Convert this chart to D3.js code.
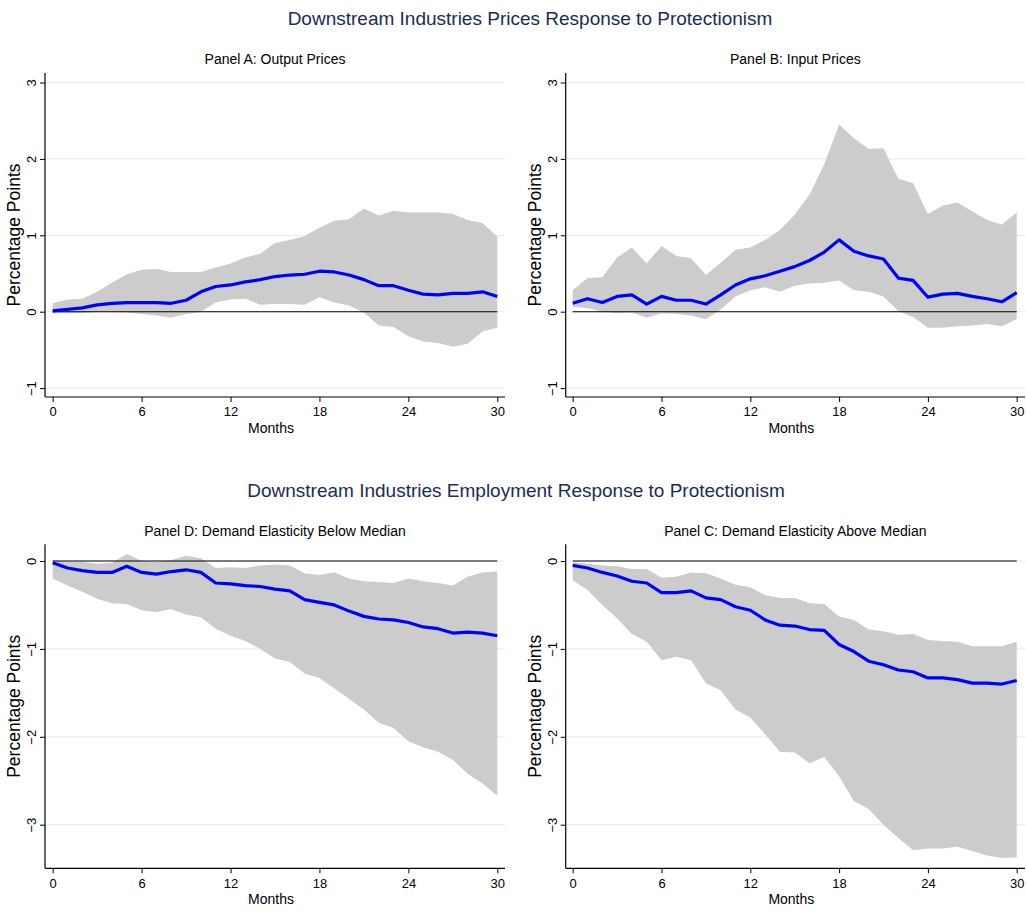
<!DOCTYPE html>
<html>
<head>
<meta charset="utf-8">
<script src="https://cdn.jsdelivr.net/npm/d3@7"></script>
<style>
  html, body { margin: 0; padding: 0; background: #fff; }
  svg { display: block; font-family: "Liberation Sans", Arial, sans-serif; }
</style>
</head>
<body>
<svg id="chart" width="1026" height="911"></svg>
<script>
// Months after the protection shock
const months = d3.range(0, 31);

// Panel A: output prices — point estimate and confidence band
const outputMean = [0.01,0.03,0.05,0.09,0.11,0.12,0.12,0.12,0.11,0.15,0.26,0.33,0.35,0.39,0.42,0.46,0.48,0.49,0.53,0.52,0.48,0.42,0.34,0.34,0.28,0.23,0.22,0.24,0.24,0.26,0.20];
const outputUpper = [0.11,0.16,0.17,0.26,0.38,0.49,0.55,0.56,0.52,0.52,0.52,0.58,0.63,0.71,0.76,0.90,0.94,0.99,1.10,1.19,1.21,1.35,1.26,1.32,1.30,1.30,1.30,1.28,1.20,1.16,0.98];
const outputLower = [-0.02,-0.02,-0.02,0.00,0.00,-0.01,-0.03,-0.05,-0.08,-0.03,0.00,0.12,0.16,0.17,0.09,0.10,0.10,0.09,0.19,0.12,0.08,-0.01,-0.18,-0.20,-0.32,-0.39,-0.41,-0.46,-0.42,-0.26,-0.21];

// Panel B: input prices
const inputMean = [0.11,0.17,0.12,0.20,0.22,0.10,0.20,0.15,0.15,0.10,0.22,0.35,0.43,0.47,0.53,0.59,0.67,0.78,0.94,0.79,0.73,0.69,0.44,0.41,0.19,0.23,0.24,0.20,0.17,0.13,0.25];
const inputUpper = [0.28,0.44,0.45,0.71,0.84,0.63,0.86,0.73,0.70,0.48,0.64,0.81,0.84,0.94,1.07,1.27,1.53,1.93,2.45,2.27,2.13,2.14,1.74,1.68,1.28,1.39,1.43,1.31,1.20,1.14,1.30];
const inputLower = [0.06,0.05,0.00,-0.02,-0.01,-0.08,-0.02,-0.03,-0.05,-0.10,0.03,0.20,0.28,0.32,0.26,0.34,0.37,0.38,0.41,0.28,0.26,0.20,0.01,-0.07,-0.21,-0.21,-0.19,-0.18,-0.16,-0.19,-0.10];

// Panel D: employment, demand elasticity below median
const belowMean = [-0.02,-0.08,-0.11,-0.13,-0.13,-0.06,-0.13,-0.15,-0.12,-0.10,-0.13,-0.25,-0.26,-0.28,-0.29,-0.32,-0.34,-0.44,-0.47,-0.50,-0.57,-0.63,-0.66,-0.67,-0.70,-0.75,-0.77,-0.82,-0.81,-0.82,-0.85];
const belowUpper = [0.01,-0.01,-0.01,-0.03,-0.02,0.08,0.00,-0.01,0.01,0.06,0.03,-0.08,-0.07,-0.08,-0.05,-0.04,-0.05,-0.14,-0.16,-0.13,-0.20,-0.23,-0.24,-0.25,-0.20,-0.23,-0.25,-0.28,-0.18,-0.13,-0.12];
const belowLower = [-0.20,-0.28,-0.35,-0.43,-0.48,-0.49,-0.56,-0.58,-0.55,-0.61,-0.64,-0.77,-0.85,-0.91,-1.00,-1.11,-1.15,-1.28,-1.33,-1.45,-1.57,-1.69,-1.84,-1.90,-2.05,-2.12,-2.17,-2.26,-2.42,-2.53,-2.67];

// Panel C: employment, demand elasticity above median
const aboveMean = [-0.05,-0.08,-0.13,-0.17,-0.23,-0.25,-0.36,-0.36,-0.34,-0.42,-0.44,-0.52,-0.56,-0.67,-0.73,-0.74,-0.78,-0.79,-0.95,-1.03,-1.14,-1.18,-1.24,-1.26,-1.33,-1.33,-1.35,-1.39,-1.39,-1.40,-1.36];
const aboveUpper = [-0.01,-0.03,-0.05,-0.06,-0.09,-0.09,-0.19,-0.18,-0.13,-0.14,-0.20,-0.27,-0.30,-0.39,-0.42,-0.42,-0.48,-0.49,-0.63,-0.67,-0.78,-0.80,-0.84,-0.83,-0.90,-0.91,-0.92,-0.97,-0.97,-0.97,-0.92];
const aboveLower = [-0.22,-0.33,-0.50,-0.65,-0.83,-0.92,-1.13,-1.09,-1.13,-1.39,-1.47,-1.69,-1.78,-1.97,-2.17,-2.18,-2.30,-2.23,-2.45,-2.73,-2.82,-3.00,-3.15,-3.29,-3.27,-3.27,-3.25,-3.30,-3.35,-3.38,-3.37];

// Axis ticks
const xTicks = [0, 6, 12, 18, 24, 30];
const priceTicks = [-1, 0, 1, 2, 3];
const employmentTicks = [-3, -2, -1, 0];

// Section titles
const titles = [
  { text: "Downstream Industries Prices Response to Protectionism", x: 530, y: 25 },
  { text: "Downstream Industries Employment Response to Protectionism", x: 516, y: 497 }
];

const panels = [
  { title: "Panel A: Output Prices", mean: outputMean, upper: outputUpper, lower: outputLower,
    ticks: priceTicks, left: 45, right: 505, x0: 52.7, x30: 497.3,
    top: 73, bottom: 397, yDom: [-1, 3], yRange: [388.1, 82.5], titleY: 64 },
  { title: "Panel B: Input Prices", mean: inputMean, upper: inputUpper, lower: inputLower,
    ticks: priceTicks, left: 565.7, right: 1025, x0: 572.7, x30: 1016.7,
    top: 73, bottom: 397, yDom: [-1, 3], yRange: [388.1, 82.5], titleY: 64 },
  { title: "Panel D: Demand Elasticity Below Median", mean: belowMean, upper: belowUpper, lower: belowLower,
    ticks: employmentTicks, left: 45, right: 505, x0: 52.7, x30: 497.3,
    top: 544.3, bottom: 868.3, yDom: [-3, 0], yRange: [824.7, 561], titleY: 536 },
  { title: "Panel C: Demand Elasticity Above Median", mean: aboveMean, upper: aboveUpper, lower: aboveLower,
    ticks: employmentTicks, left: 565.7, right: 1025, x0: 572.7, x30: 1016.7,
    top: 544.3, bottom: 868.3, yDom: [-3, 0], yRange: [824.7, 561], titleY: 536 }
];

const svg = d3.select("#chart");

svg.selectAll("text.main-title")
  .data(titles)
  .join("text")
  .attr("class", "main-title")
  .attr("x", d => d.x)
  .attr("y", d => d.y)
  .attr("text-anchor", "middle")
  .attr("fill", "#1c2b5a")
  .style("font-size", "19px")
  .text(d => d.text);

const fmt = d => d < 0 ? "\u2212" + Math.abs(d) : String(d);

panels.forEach(p => {
  const x = d3.scaleLinear().domain([0, 30]).range([p.x0, p.x30]);
  const y = d3.scaleLinear().domain(p.yDom).range(p.yRange);
  const g = svg.append("g");

  // light horizontal grid at each labelled value
  g.selectAll("line.grid")
    .data(p.ticks)
    .join("line")
    .attr("x1", p.left).attr("x2", p.right)
    .attr("y1", d => y(d)).attr("y2", d => y(d))
    .attr("stroke", "#e8f0f1").attr("stroke-width", 1.2);

  // confidence band
  const area = d3.area()
    .x((d, i) => x(months[i]))
    .y0((d, i) => y(p.lower[i]))
    .y1((d, i) => y(p.upper[i]));
  g.append("path")
    .datum(p.mean)
    .attr("d", area)
    .attr("fill", "#cccccc");

  // zero reference line
  g.append("line")
    .attr("x1", x(0)).attr("x2", x(30))
    .attr("y1", y(0)).attr("y2", y(0))
    .attr("stroke", "#000").attr("stroke-width", 1.1);

  // point estimate
  const line = d3.line()
    .x((d, i) => x(months[i]))
    .y(d => y(d));
  g.append("path")
    .datum(p.mean)
    .attr("d", line)
    .attr("fill", "none")
    .attr("stroke", "#0000ff")
    .attr("stroke-width", 3.2)
    .attr("stroke-linejoin", "round");

  // x axis
  const xAxis = d3.axisBottom(x).tickValues(xTicks).tickSize(5).tickPadding(5).tickFormat(d3.format("d"));
  const gx = g.append("g").attr("transform", `translate(0,${p.bottom})`).call(xAxis);
  gx.select(".domain").remove();
  gx.append("line").attr("x1", p.left).attr("x2", p.right).attr("y1", 0).attr("y2", 0)
    .attr("stroke", "#000").attr("stroke-width", 1.2);
  gx.selectAll(".tick line").attr("stroke", "#000");
  gx.selectAll(".tick text").attr("fill", "#000")
    .style("font-size", "13px").style("font-family", "'Liberation Sans', Arial, sans-serif");

  // y axis with labels turned vertical
  const yAxis = d3.axisLeft(y).tickValues(p.ticks).tickSize(5).tickFormat(fmt);
  const gy = g.append("g").attr("transform", `translate(${p.left},0)`).call(yAxis);
  gy.select(".domain").remove();
  gy.append("line").attr("x1", 0).attr("x2", 0).attr("y1", p.top).attr("y2", p.bottom)
    .attr("stroke", "#000").attr("stroke-width", 1.2);
  gy.selectAll(".tick line").attr("stroke", "#000");
  gy.selectAll(".tick text")
    .attr("fill", "#000")
    .attr("x", null).attr("dy", null)
    .attr("transform", "translate(-9,0) rotate(-90)")
    .attr("text-anchor", "middle")
    .attr("y", 0)
    .style("font-size", "13px").style("font-family", "'Liberation Sans', Arial, sans-serif");

  // axis titles
  g.append("text")
    .attr("x", (p.left + p.right) / 2 - 4)
    .attr("y", p.bottom + 35.5)
    .attr("text-anchor", "middle")
    .style("font-size", "14px")
    .text("Months");

  g.append("text")
    .attr("transform", `translate(${p.left - 25},${(p.top + p.bottom) / 2}) rotate(-90)`)
    .attr("text-anchor", "middle")
    .style("font-size", "17.5px")
    .text("Percentage Points");

  // panel title
  g.append("text")
    .attr("x", (p.left + p.right) / 2)
    .attr("y", p.titleY)
    .attr("text-anchor", "middle")
    .style("font-size", "14px")
    .text(p.title);
});
</script>
</body>
</html>
